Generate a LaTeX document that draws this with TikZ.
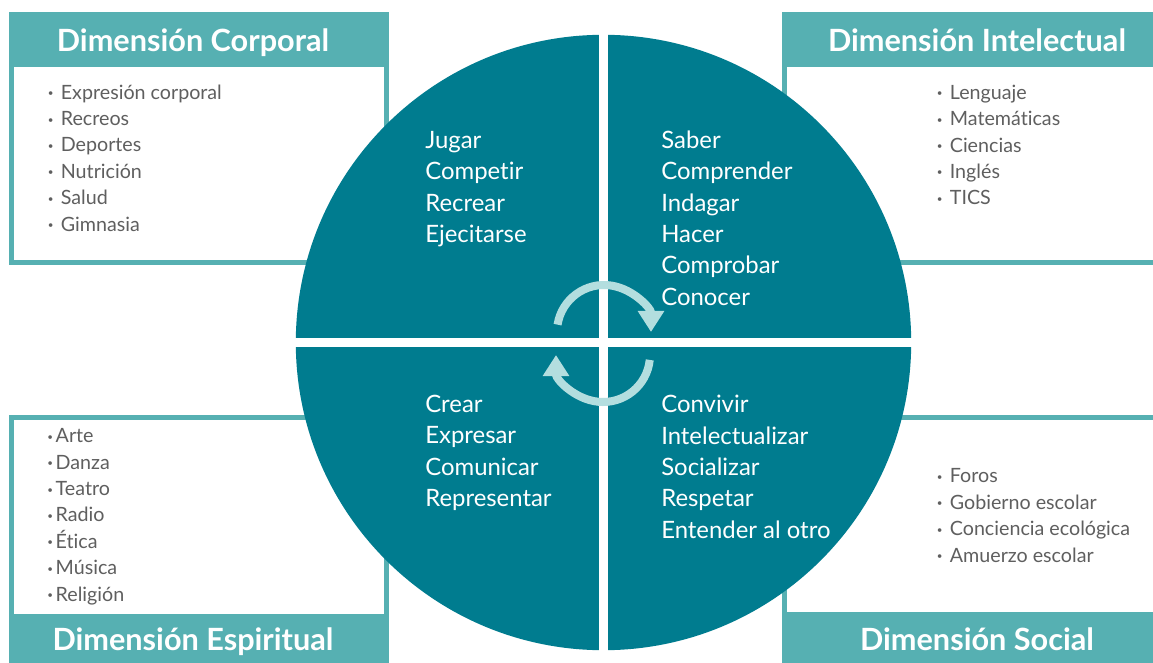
\documentclass[tikz,border=0pt]{standalone}
\usepackage{fontspec}
\setmainfont{Lato}[Ligatures=NoCommon]
\usepackage{graphicx}
\usetikzlibrary{positioning, arrows.meta}
\definecolor{circTeal}{HTML}{007C8F}
\definecolor{headTeal}{HTML}{56B0B2}
\definecolor{cycleTeal}{HTML}{B3DEDF}
\definecolor{listGray}{HTML}{5F5F5F}
\tikzstyle{frame} = [fill=headTeal]
\tikzstyle{sheet} = [fill=white]
\tikzstyle{header} = [text=white, inner sep=0pt, anchor=base, font=\fontsize{21.8}{26}\selectfont\bfseries]
% multi-line nodes: base = baseline of the last line
\tikzstyle{verbs} = [text=white, inner sep=0pt, anchor=base west, align=left, font=\fontsize{17}{22.3}\selectfont]
\tikzstyle{items} = [text=listGray, inner sep=0pt, anchor=base west, align=left, font=\fontsize{14}{18.8}\selectfont]
\tikzstyle{cycle} = [line width=5.7pt, draw=cycleTeal, -{Triangle[width=18pt,length=15pt]}]
\newcommand\bul{\makebox[9.3pt][l]{\raisebox{0.25ex}{\scalebox{0.5}{•}}}}
\newcommand\bult{\makebox[6pt][l]{\raisebox{0.25ex}{\scalebox{0.5}{•}}}}

\begin{document}
\begin{tikzpicture}[x=0.025cm, y=-0.025cm]
\useasboundingbox (0,0) rectangle (1153,663);
% Boxes
\fill [frame] (9,12) rectangle (389,265);
\fill [sheet] (14,67) rectangle (384,260);
\fill [frame] (782,12) rectangle (1162,265);
\fill [sheet] (787,67) rectangle (1157,260);
\fill [frame] (9,415) rectangle (389,670);
\fill [sheet] (14,420) rectangle (384,614);
\fill [frame] (782,415) rectangle (1162,670);
\fill [sheet] (787,420) rectangle (1157,612);

% Headers
\node (hCorp) [header] at (193,51.7) {Dimensión Corporal};
\node (hInt) [header] at (977,51.7) {Dimensión Intelectual};
\node (hEsp) [header] at (193,650) {Dimensión Espiritual};
\node (hSoc) [header] at (977,650) {Dimensión Social};

% Lists
\node (lCorp) [items] at (47.5,231.3) {\bul Expresión corporal\\ \bul Recreos\\ \bul Deportes\\ \bul Nutrición\\ \bul Salud\\ \bul Gimnasia};
\node (lInt) [items] at (936.5,204.9) {\bul Lenguaje\\ \bul Matemáticas\\ \bul Ciencias\\ \bul Inglés\\ \bul TICS};
\node (lEsp) [items] at (47,601.3) {\bult Arte\\ \bult Danza\\ \bult Teatro\\ \bult Radio\\ \bult Ética\\ \bult Música\\ \bult Religión};
\node (lSoc) [items] at (936.5,562.2) {\bul Foros\\ \bul Gobierno escolar\\ \bul Conciencia ecológica\\ \bul Amuerzo escolar};

% Circle with four quarters
\fill [circTeal] (603.5,342.5) circle (307.7);
\fill [white] (599.2,20) rectangle (607.8,665);
\fill [white] (280,338) rectangle (930,346.7);

% Quarter texts
\node (qCorp) [verbs] at (425,242.5) {Jugar\\ Competir\\ Recrear\\ Ejecitarse};
\node (qInt) [verbs] at (661,305.3) {Saber\\ Comprender\\ Indagar\\ Hacer\\ Comprobar\\ Conocer};
\node (qEsp) [verbs] at (425,506.7) {Crear\\ Expresar\\ Comunicar\\ Representar};
\node (qSoc) [verbs] at (661,538.1) {Convivir\\ Intelectualizar\\ Socializar\\ Respetar\\ Entender al otro};

% Cycle arrows
\draw [cycle] (604,332) ++(189:47) arc [start angle=189, end angle=360, radius=47];
\draw [cycle] (603,355) ++(6:47) arc [start angle=6, end angle=180, radius=47];
\end{tikzpicture}
\end{document}
